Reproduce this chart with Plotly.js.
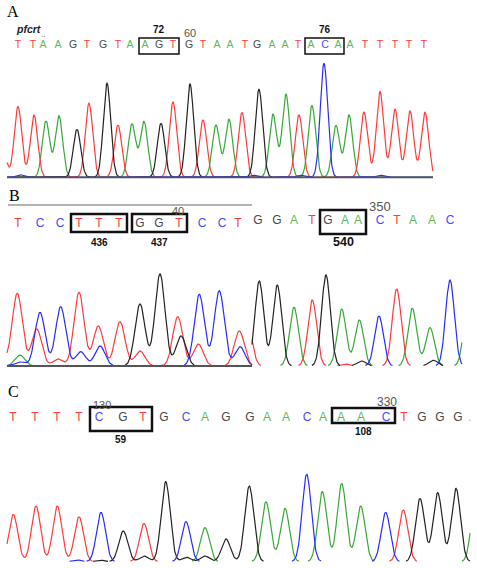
<!DOCTYPE html>
<html><head><meta charset="utf-8">
<script src="https://cdn.plot.ly/plotly-3.0.1.min.js"></script>
<style>html,body{margin:0;padding:0;background:#fff}#chart{width:477px;height:568px}</style>
</head><body><div id="chart"></div>
<script>
// ---------------- DATA ----------------
// Panel A (pfcrt)
const seqA = "TTAAGTGTAAGTGTAATGAATACAATTTTT";
const callPosA = [18,33,43,58,73,87,103,118,130,145,159,173,189,203,217,230,245,257,272,285,298,311,325,338,350,365,380,395,409,424];
const peakPosA = [3,18,34,46,59,77,89,107,118,132,144,161,173,190,203,216,229,242,259,273,286,299,312,324,336,349,364,380,395,410,425,20,253,300,380];
const peakHtA  = [25,70.7,62.3,56.3,61.3,48,74,94,52.3,53.3,55.7,54,75.3,93.3,57.3,52.3,58,64.7,88,63,83,62.3,71.7,114,52,62.3,65,85.7,68,66.3,65,2.5,2,2,2];
const peakBaseA = "TTTAAGTGTAAGTGTAATGAATACAATTTTTCCCC";
const codonStartA = [9,21];
const codonLabelA = ["72","76"];
const posMarkIdxA = [12];
const posMarkA = ["60"];

// Panel B (two reads side by side)
const seqB = "TCCTTTGGTCCTGGATGAACTAAC";
const callPosB = [18,40,60,79,99,119,140,159,179,202,222,238,258,277,294,312,328,345,358,380,397,413,432,450];
const splitB = 12;
const peakPosB1 = [3,17.3,36.7,58,79,98.3,120,140,177.7,198.3,239.3,20,40,60.7,80.7,100,199.3,219.3,240,20,140,160,181];
const peakHtB1  = [6,72.7,37,7,73.7,40,44.3,15,49.3,22,35,4,53.7,59.3,14.3,20,71.7,75.3,19.3,11,62,92,30];
const peakBaseB1 = "TTTTTTTTTTTCCCCCCCCAGGG";
const peakPosB2 = [259.3,277.3,326,361.7,433.3,294,341.7,359.3,412.3,430,468,248,312.3,396.7,345,379,450];
const peakHtB2  = [85,81,91,5,5.7,58.7,57,46,57.7,38.3,60,40,66,77,2,50,86];
const peakBaseB2 = "GGGGGAAAAAATTTTCC";
const codonStartB = [3,6,16];
const codonLabelB = ["436","437","540"];
const posMarkIdxB = [8,19];
const posMarkB = ["40","350"];

// Panel C
const seqC = "TTTTCGTGCAGGAACAAACTGGG.";
const callPosC = [13,35,57,79,99,123,143,164,186,205,226,250,267,286,307,323,341,361,386,404,422,440,458,470];
const peakPosC = [13.3,36,57.3,79,144,403.3,101,186,306.7,385.7,76.7,123.3,165.7,226,249.3,420,437.7,456,100,144,186.7,205,205,266,285,322.3,341.7,360.7,476];
const peakHtC  = [47.3,55.7,55.7,45,38.3,51.7,49.3,40,87.3,49.3,1.7,30.7,80,22.7,75.7,63.3,69,73.3,1.5,5.7,4.3,5.7,34,60,53.3,70,78.3,55.7,70];
const peakBaseC = "TTTTTTCCCCCGGGGGGGGGGGAAAAAAA";
const codonStartC = [4,16];
const codonLabelC = ["59","108"];
const posMarkIdxC = [4,18];
const posMarkC = ["130","330"];

// ---------------- STYLE ----------------
const traceCol = {T:'#ff3a3a', A:'#36a836', G:'#222222', C:'#2a2aff'};
const letterCol = {T:'#ff3b3b', A:'#5cb85c', G:'#474747', C:'#4a4aff', '.':'#e8c400'};
const H = 568;

function curve(pos, ht, base, b, x0, x1, sigma, hide){
  const xs=[], ys=[];
  for(let x=x0; x<=x1+1e-9; x+=0.5){
    let s=0;
    for(let i=0;i<pos.length;i++){ if(base[i]!==b) continue; const d=x-pos[i]; s+=ht[i]*Math.exp(-d*d/(2*sigma*sigma)); }
    xs.push(x); ys.push(hide && s<0.4 ? null : s);
  }
  return {xs, ys};
}
const traces=[];
function addCurves(pos, ht, base, x0, x1, sigma, hide, yax){
  ['A','T','G','C'].forEach(b=>{
    if(base.indexOf(b)<0) return;
    const c=curve(pos,ht,base,b,x0,x1,sigma,hide);
    traces.push({type:'scatter',mode:'lines',x:c.xs,y:c.ys,yaxis:yax,xaxis:'x',
      line:{color:traceCol[b],width:1.2},hoverinfo:'skip',showlegend:false,connectgaps:false});
  });
}
function baseline(x0,x1,yax){
  traces.push({type:'scatter',mode:'lines',x:[x0,x1],y:[0,0],yaxis:yax,xaxis:'x',
    line:{color:'#555',width:1.8},hoverinfo:'skip',showlegend:false});
}
addCurves(peakPosA,peakHtA,peakBaseA,7,433,3.7,false,'y');
baseline(7,433,'y');
addCurves(peakPosB1,peakHtB1,peakBaseB1,7,252,5,false,'y2');
baseline(7,252,'y2');
addCurves(peakPosB2,peakHtB2,peakBaseB2,252,462,4.4,true,'y2');
addCurves(peakPosC,peakHtC,peakBaseC,7,470,4.5,true,'y3');

// letters
function letters(seq,pos,rowY,size,from,to){
  const s=seq.split('').slice(from,to), p=pos.slice(from,to);
  traces.push({type:'scatter',mode:'text',x:p,y:p.map(()=>rowY),text:s,yaxis:'y4',xaxis:'x',
    textposition:'middle center',cliponaxis:false,
    textfont:{family:'Liberation Sans, Arial, sans-serif',size:size,color:s.map(c=>letterCol[c])},
    hoverinfo:'skip',showlegend:false});
}
letters(seqA,callPosA,45.5,10.5,0,seqA.length);
letters(seqB,callPosB,224,12,0,splitB);
letters(seqB,callPosB,221,12,splitB,seqB.length);
letters(seqC,callPosC,417.5,12,0,seqC.length);

// boxes and labels
const shapes=[], ann=[];
function codons(starts,labels,pos,pad,y0s,y1s,labelY,lsize,width){
  starts.forEach((s,i)=>{
    const x0=pos[s]-pad, x1=pos[s+2]+pad;
    shapes.push({type:'rect',xref:'x',yref:'y4',x0:x0,x1:x1,y0:y0s[i],y1:y1s[i],line:{color:'#111',width:width}});
    ann.push({xref:'x',yref:'y4',x:(x0+x1)/2,y:labelY[i],text:'<b>'+labels[i]+'</b>',showarrow:false,
      font:{family:'Liberation Sans, Arial, sans-serif',size:lsize[i],color:'#111'}});
  });
}
codons(codonStartA,codonLabelA,callPosA,6,[38,38],[54,54],[29,29],[10,10],1.5);
codons(codonStartB,codonLabelB,callPosB,8,[214,214,210],[232,232,234],[242,242,242],[10,10,12.5],2.5);
codons(codonStartC,codonLabelC,callPosC,9,[407,408],[431,423],[439,431],[10,10],2.5);

function marks(idx,labels,pos,ys,sizes,dx){
  idx.forEach((k,i)=>ann.push({xref:'x',yref:'y4',x:pos[k]+dx[i],y:ys[i],text:labels[i],showarrow:false,
    font:{family:'Liberation Sans, Arial, sans-serif',size:sizes[i],color:'#555'}}));
}
marks(posMarkIdxA,posMarkA,callPosA,[32.5],[11],[1]);
marks(posMarkIdxB,posMarkB,callPosB,[211,206.5],[11,13],[-1,0]);
marks(posMarkIdxC,posMarkC,callPosC,[405,402],[11,12],[3,1]);

const serif={family:'Liberation Serif, Times New Roman, serif',size:16,color:'#000'};
ann.push({xref:'x',yref:'y4',x:13,y:11,text:'A',showarrow:false,font:serif});
ann.push({xref:'x',yref:'y4',x:14,y:195,text:'B',showarrow:false,font:serif});
ann.push({xref:'x',yref:'y4',x:13,y:391,text:'C',showarrow:false,font:serif});
ann.push({xref:'x',yref:'y4',x:28,y:29,text:'<b><i>pfcrt</i></b>',showarrow:false,
  font:{family:'Liberation Sans, Arial, sans-serif',size:10.5,color:'#222'}});
ann.push({xref:'x',yref:'y4',x:callPosA[2],y:34.5,text:'..',showarrow:false,
  font:{family:'Liberation Sans, Arial, sans-serif',size:8,color:'#555'}});
shapes.push({type:'line',xref:'x',yref:'y4',x0:8,x1:252,y0:205,y1:205,line:{color:'#9a9a9a',width:1.5}});

function dom(b,t,pad){ return [1-(b+pad)/H, 1-t/H]; }
const hid={visible:false,fixedrange:true,showgrid:false,zeroline:false};
const layout={
  width:477,height:568,margin:{l:0,r:0,t:0,b:0},
  paper_bgcolor:'#fff',plot_bgcolor:'rgba(0,0,0,0)',showlegend:false,
  xaxis:Object.assign({range:[0,477],domain:[0,1],anchor:'y4'},hid),
  yaxis:Object.assign({range:[-3,177.3-60],domain:dom(177.3,60,3),anchor:'x'},hid),
  yaxis2:Object.assign({range:[-3,366-240],domain:dom(366,240,3),anchor:'x'},hid),
  yaxis3:Object.assign({range:[-3,561.7-440],domain:dom(561.7,440,3),anchor:'x'},hid),
  yaxis4:Object.assign({range:[H,0],domain:[0,1],anchor:'x'},hid),
  shapes:shapes,annotations:ann
};
Plotly.newPlot('chart',traces,layout,{displayModeBar:false,staticPlot:true});
</script></body></html>
